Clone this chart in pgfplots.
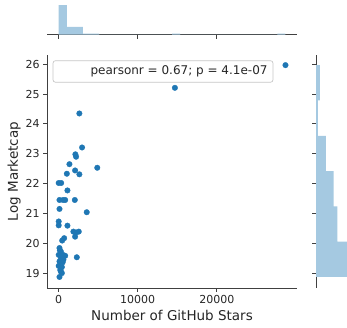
\documentclass[border=0pt]{standalone}
\usepackage{pgfplots}
\usepackage{pgfplotstable}
\pgfplotsset{compat=1.18}
\usepackage{fontspec}
\setmainfont{DejaVu Sans}
\definecolor{cZero}{HTML}{1F77B4}
\definecolor{histc}{HTML}{A5C9E1}
\definecolor{txt}{HTML}{262626}
\definecolor{spine}{HTML}{404040}

\pgfplotstableread{
stars mcap
2616 24.35
2956 23.21
2113 22.98
2201 22.90
1358 22.65
4881 22.53
2075 22.44
1031 22.33
2616 22.31
0 22.02
314 22.02
1107 21.77
100 21.45
550 21.45
820 21.45
2038 21.45
100 21.15
3547 21.04
0 20.73
0 20.60
1107 20.59
1862 20.39
2200 20.36
2540 20.39
2075 20.22
692 20.17
440 20.09
100 19.84
150 19.76
280 19.72
0 19.61
530 19.61
820 19.58
280 19.50
600 19.45
100 19.39
500 19.36
0 19.24
400 19.20
200 19.10
280 19.05
400 19.00
100 18.87
2290 19.53
14700 25.21
28690 25.97
}\scatterdata

\pgfplotsset{
  jstyle/.style={
    scale only axis, anchor=south west,
    axis line style={spine, line width=0.9pt, -},
    tick align=outside, major tick length=3.85pt,
    tick style={spine, line width=0.9pt},
    scaled ticks=false,
    /pgf/number format/assume math mode=true,
    tick label style={font=\fontsize{11}{13}\selectfont, text=txt},
    label style={font=\fontsize{13.5}{16}\selectfont, text=txt},
  }
}

\begin{document}
\begin{tikzpicture}
\useasboundingbox (0,0) rectangle (347pt,328pt);
\clip (0,0) rectangle (347pt,328pt);

% main scatter
\begin{axis}[jstyle,
  at={(47pt,40pt)}, width=250pt, height=233pt,
  xmin=-1480, xmax=30150, ymin=18.5, ymax=26.31,
  axis x line*=bottom, axis y line*=left,
  xtick={0,10000,20000}, ytick={19,20,21,22,23,24,25,26},
  xticklabel style={/pgf/number format/1000 sep={}},
  xlabel={Number of GitHub Stars}, ylabel={Log Marketcap},
  ylabel style={yshift=-2pt},
  clip=false,
]
\addplot[only marks, mark=*, mark size=2.8pt, mark options={solid, fill=cZero, draw=cZero, line width=0.3pt}]
  table[x=stars, y=mcap]{\scatterdata};
\draw[rounded corners=2.5pt, draw=black!22, fill=white, line width=0.7pt]
  (rel axis cs:0.024,0.9755) rectangle (rel axis cs:0.904,0.883);
\node[anchor=east, inner sep=0pt, font=\fontsize{12}{14}\selectfont, text=txt]
  at (rel axis cs:0.883,0.929) {pearsonr = 0.67; p = 4.1e-07};
\end{axis}

% top marginal histogram
\begin{axis}[jstyle,
  at={(47pt,293.3pt)}, width=250pt, height=46.6pt,
  xmin=-1480, xmax=30150, ymin=0, ymax=42.4,
  axis x line*=bottom, axis y line=none,
  xtick={0,10000,20000}, xticklabels={},
]
\addplot[ybar interval, fill=histc, draw=none] coordinates {
  (0,27) (1024.6,7) (2049.3,7) (3073.9,1) (4098.6,1) (5123.2,0)
  (14344.2,1) (15368.8,0) (27663.8,1) (28688.5,0)};
\end{axis}

% right marginal histogram
\begin{axis}[jstyle,
  at={(316pt,40pt)}, width=46.6pt, height=233pt,
  xmin=0, xmax=23.9, ymin=18.5, ymax=26.31,
  axis y line*=left, axis x line=none,
  ytick={19,20,21,22,23,24,25,26}, yticklabels={},
]
\addplot[xbar interval, fill=histc, draw=none] coordinates {
  (17,18.87) (11,20.053) (9,21.237) (5,22.42) (1,23.603) (2,24.787) (0,25.97)};
\end{axis}
\end{tikzpicture}
\end{document}
